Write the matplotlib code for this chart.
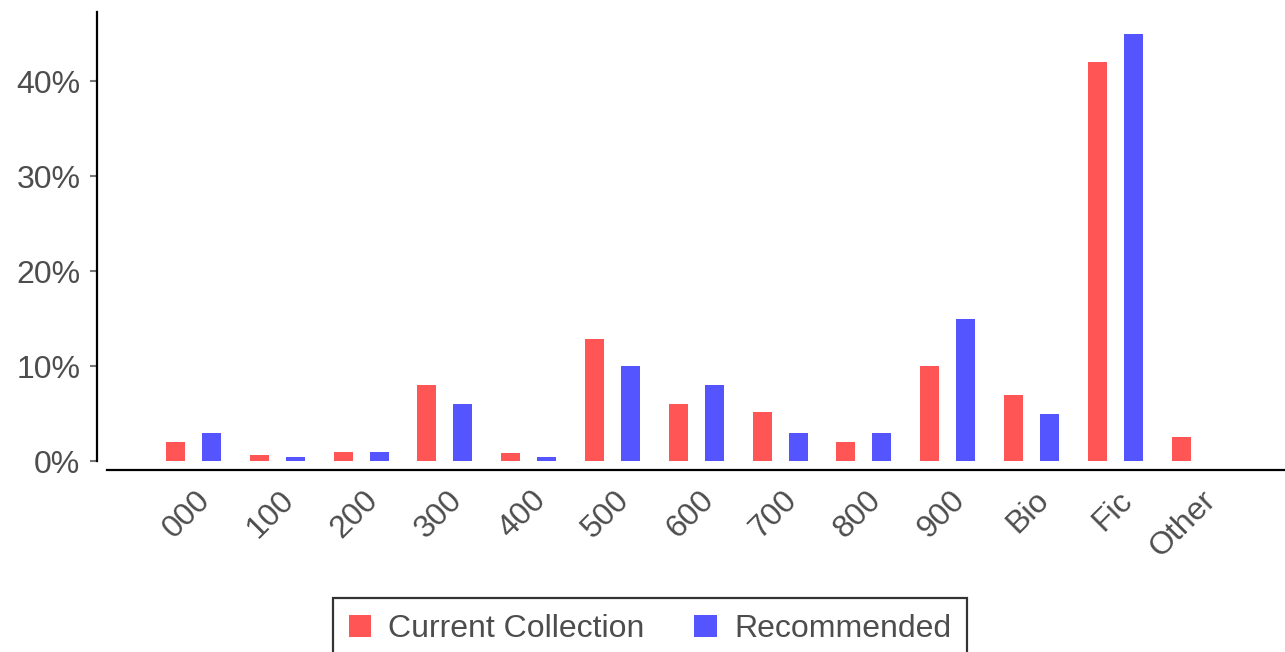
import numpy as np
import matplotlib
matplotlib.use('Agg')
import matplotlib.pyplot as plt
import matplotlib.transforms as mtransforms

plt.rcParams['font.family'] = ['Liberation Sans', 'DejaVu Sans']

# data
categories = ['000', '100', '200', '300', '400', '500', '600', '700', '800', '900', 'Bio', 'Fic', 'Other']
current = [2.0, 0.7, 1.0, 8.0, 0.9, 12.9, 6.0, 5.2, 2.0, 10.0, 7.0, 42.0, 2.6]
recommended = [3.0, 0.5, 1.0, 6.0, 0.5, 10.0, 8.0, 3.0, 3.0, 15.0, 5.0, 45.0, 0.0]
yticks = [0, 10, 20, 30, 40]

red = '#FF5555'
blue = '#5555FF'
grey = '#4D4D4D'
fs = 23

fig = plt.figure(figsize=(12.85, 6.52), dpi=100)
ax = fig.add_axes([97/1285, (652-470)/652, 1 - 97/1285, (470-12)/652])

x = np.arange(len(categories))
w = 0.227
off = 0.215
ax.bar(x - off, current, width=w, color=red, label='Current Collection')
ax.bar(x + off, recommended, width=w, color=blue, label='Recommended')

ax.set_xlim(-1.152, 13.025)
ax.set_ylim(-0.9, 47.3)

for s in ['top', 'right']:
    ax.spines[s].set_visible(False)
ax.spines['left'].set_bounds(0, 47.3)
ax.spines['bottom'].set_bounds(-1.032, 13.025)
for s in ['left', 'bottom']:
    ax.spines[s].set_linewidth(1.6)
    ax.spines[s].set_color('black')

ax.set_yticks(yticks)
ax.set_yticklabels([f'{v}%' for v in yticks])
ax.tick_params(axis='y', length=5, width=1.5, color='#777777', labelsize=fs,
               labelcolor=grey, pad=7)

ax.set_xticks(x)
ax.set_xticklabels(categories, rotation=45, ha='right', va='top', rotation_mode='anchor')
ax.tick_params(axis='x', length=0, labelsize=fs, labelcolor=grey, pad=11)
shift = mtransforms.ScaledTranslation(2/100, 0, fig.dpi_scale_trans)
for lbl in ax.get_xticklabels():
    lbl.set_transform(lbl.get_transform() + shift)

leg = fig.legend(loc='upper center', bbox_to_anchor=(650/1285, 1 - 598/652), ncol=2,
                 fontsize=fs, frameon=True, fancybox=False, edgecolor='black',
                 handlelength=0.7, handleheight=0.7, handletextpad=0.55,
                 columnspacing=1.55, borderpad=0.5, borderaxespad=0, labelcolor=grey)
leg.get_frame().set_linewidth(1.6)

fig.savefig('out.png', dpi=100)
